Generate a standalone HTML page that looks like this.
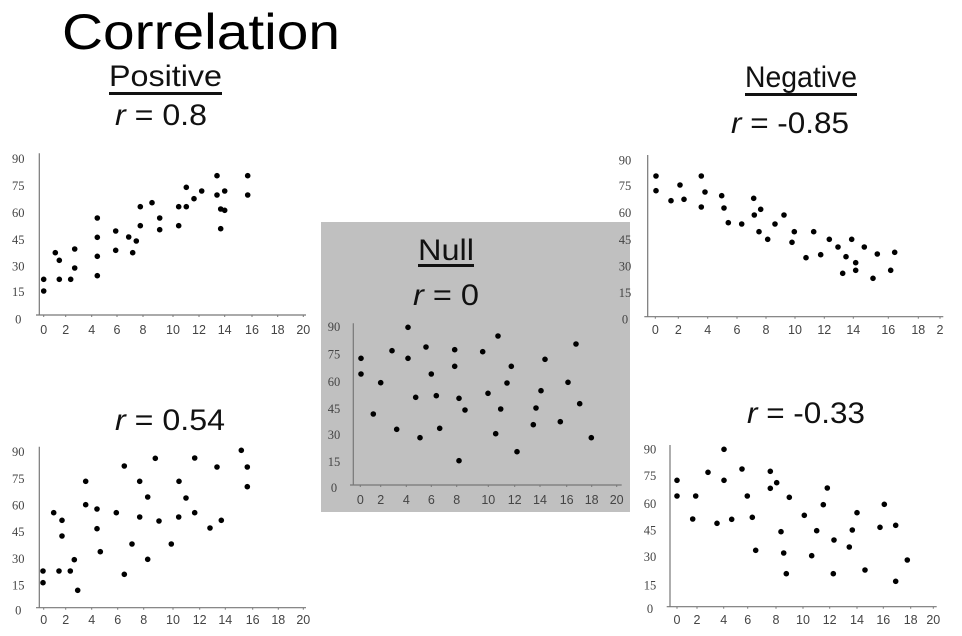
<!DOCTYPE html>
<html><head><meta charset="utf-8"><style>
html,body{margin:0;padding:0;background:#fff;}
svg{display:block;}
</style></head><body>
<svg id="s" width="962" height="636" xmlns="http://www.w3.org/2000/svg" font-family="Liberation Sans, sans-serif">
<rect x="321" y="222" width="309" height="290" fill="#c0c0c0"/>
<text x="62" y="49" font-size="50" textLength="278" lengthAdjust="spacingAndGlyphs" fill="#000">Correlation</text>
<text x="109" y="86" font-size="30" textLength="113" lengthAdjust="spacingAndGlyphs" fill="#111">Positive</text>
<rect x="109" y="92" width="113" height="3" fill="#111"/>
<text x="115" y="125" font-size="30" textLength="92" lengthAdjust="spacingAndGlyphs" fill="#111"><tspan font-style="italic">r</tspan> = 0.8</text>
<text x="745" y="87" font-size="30" textLength="112" lengthAdjust="spacingAndGlyphs" fill="#111">Negative</text>
<rect x="745" y="93" width="112" height="3" fill="#111"/>
<text x="731" y="133" font-size="30" textLength="118" lengthAdjust="spacingAndGlyphs" fill="#111"><tspan font-style="italic">r</tspan> = -0.85</text>
<text x="418" y="260" font-size="30" textLength="56" lengthAdjust="spacingAndGlyphs" fill="#111">Null</text>
<rect x="418" y="264" width="56" height="3" fill="#111"/>
<text x="413" y="305" font-size="30" textLength="66" lengthAdjust="spacingAndGlyphs" fill="#111"><tspan font-style="italic">r</tspan> = 0</text>
<text x="115" y="430" font-size="30" textLength="110" lengthAdjust="spacingAndGlyphs" fill="#111"><tspan font-style="italic">r</tspan> = 0.54</text>
<text x="747" y="423" font-size="30" textLength="118" lengthAdjust="spacingAndGlyphs" fill="#111"><tspan font-style="italic">r</tspan> = -0.33</text>
<g id="g"></g>
</svg>
<script>
var plots=[
{o:[0,140],ax:118,top:40,bot:525,xr:918,yl:[55,137,218,298,378,455,537],ylx:55,xly:568,xl:[131,197,275,351,429,519,597,674,756,833,910],xt:["0","2","4","6","8","10","12","14","16","18","20"],
p:[[131,418],[131,453],[166,338],[178,361],[178,418],[212,418],[224,327],[224,384],[292,234],[292,292],[292,349],[292,407],[347,273],[347,331],[386,291],[398,338],[409,303],[421,200],[421,257],[456,188],[479,234],[479,269],[536,200],[536,257],[559,142],[559,200],[582,176],[605,153],[651,107],[651,165],[662,207],[662,266],[674,153],[674,211],[743,107],[743,165]]},
{o:[320,220],ax:100,top:310,bot:795,xr:905,yl:[320,402,485,565,643,725,803],ylx:42,xly:838,xl:[121,182,259,334,410,505,584,660,740,815,890],xt:["0","2","4","6","8","10","12","14","16","18","20"],
p:[[123,415],[123,462],[160,582],[182,488],[216,392],[230,628],[264,322],[264,415],[287,532],[300,653],[318,381],[334,462],[349,527],[359,625],[404,389],[404,439],[417,535],[417,722],[435,570],[488,395],[504,520],[527,641],[534,348],[542,567],[561,489],[574,439],[591,695],[640,614],[648,564],[663,512],[675,418],[721,605],[744,487],[768,372],[779,551],[814,653]]},
{o:[615,145],ax:98,top:30,bot:515,xr:985,yl:[45,122,203,283,363,443,522],ylx:30,xly:553,xl:[121,190,278,366,453,540,628,715,820,910,975],xt:["0","2","4","6","8","10","12","14","16","18","2"],
p:[[123,93],[123,137],[168,167],[195,120],[207,163],[259,93],[259,186],[270,141],[320,152],[327,189],[340,233],[380,237],[416,160],[418,210],[432,260],[437,193],[458,283],[480,237],[507,210],[531,292],[538,260],[573,338],[596,260],[617,329],[643,283],[669,306],[693,335],[683,385],[710,283],[722,353],[722,376],[748,306],[774,400],[787,327],[827,376],[839,322]]},
{o:[0,435],ax:118,top:35,bot:518,xr:918,yl:[50,130,210,290,370,450,525],ylx:55,xly:553,xl:[131,197,275,353,431,519,599,676,758,835,910],xt:["0","2","4","6","8","10","12","14","16","18","20"],
p:[[129,408],[129,443],[161,233],[186,256],[186,303],[177,408],[211,408],[223,374],[233,466],[257,139],[257,209],[291,222],[291,281],[301,350],[349,233],[373,93],[373,418],[396,327],[419,139],[419,246],[443,186],[443,373],[466,70],[477,258],[514,327],[537,139],[536,246],[558,189],[584,69],[584,233],[630,279],[651,96],[664,256],[724,46],[742,96],[742,155]]},
{o:[630,435],ax:120,top:30,bot:515,xr:920,yl:[42,122,205,285,365,450,520],ylx:60,xly:553,xl:[141,201,281,353,438,519,599,681,760,842,910],xt:["0","2","4","6","8","10","12","14","16","18","20"],
p:[[141,136],[141,183],[188,252],[197,183],[234,112],[261,265],[282,43],[282,136],[305,253],[336,102],[352,183],[367,247],[377,346],[421,109],[421,160],[440,143],[453,290],[461,354],[469,416],[478,187],[523,241],[545,362],[560,287],[580,209],[592,159],[610,416],[612,315],[658,336],[667,285],[681,233],[705,405],[750,277],[763,208],[797,271],[797,439],[832,375]]}
];
var h='';
var yt=["90","75","60","45","30","15","0"];
plots.forEach(function(P){
 function X(v){return (P.o[0]+v/3).toFixed(1);} function Y(v){return (P.o[1]+v/3).toFixed(1);}
 h+='<line x1="'+X(P.ax)+'" y1="'+Y(P.top)+'" x2="'+X(P.ax)+'" y2="'+Y(P.bot)+'" stroke="#777" stroke-width="1.2"/>';
 h+='<line x1="'+X(P.ax-10)+'" y1="'+Y(P.bot)+'" x2="'+X(P.xr)+'" y2="'+Y(P.bot)+'" stroke="#777" stroke-width="1.2"/>';
 P.yl.forEach(function(y,i){h+='<text x="'+X(P.ylx)+'" y="'+(P.o[1]+y/3+4.5).toFixed(1)+'" font-size="12.5" text-anchor="middle" fill="#444" font-family="Liberation Serif, serif">'+yt[i]+'</text>';});
 P.xl.forEach(function(x,i){h+='<text x="'+X(x)+'" y="'+(P.o[1]+P.xly/3+4.5).toFixed(1)+'" font-size="12.5" text-anchor="middle" fill="#444">'+P.xt[i]+'</text>';
   h+='<line x1="'+X(x)+'" y1="'+Y(P.bot)+'" x2="'+X(x)+'" y2="'+(P.o[1]+P.bot/3+2).toFixed(1)+'" stroke="#777"/>';});
 P.p.forEach(function(q){h+='<circle cx="'+X(q[0])+'" cy="'+Y(q[1])+'" r="2.8" fill="#000"/>';});
});
document.getElementById('g').innerHTML=h;
</script>
</body></html>
